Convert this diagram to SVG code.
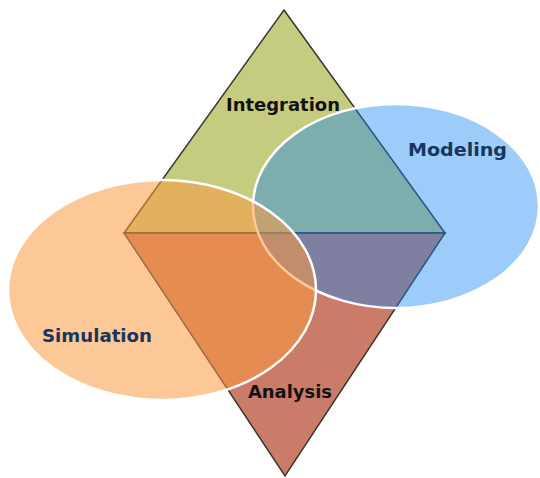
<svg xmlns="http://www.w3.org/2000/svg" width="540" height="478" viewBox="0 0 540 478">
  <style>
    .tri { stroke: #3a3530; stroke-width: 1.5; stroke-linejoin: miter; }
    .ring { stroke: #ffffff; stroke-width: 2.5; }
    .label { font-family: "DejaVu Sans", "Open Sans", sans-serif; font-weight: 700; font-size: 17.5px; text-anchor: middle; }
    .dark { fill: #111111; }
    .navy { fill: #17365d; }
  </style>
  <rect width="540" height="478" fill="#ffffff"/>
  <g id="integration">
    <polygon class="tri" points="284,10 445,233 124,233" fill="#c5cc80"/>
  </g>
  <g id="analysis">
    <polygon class="tri" points="124,233 445,233 285,476" fill="#ca7c68"/>
  </g>
  <g id="modeling">
    <ellipse class="ring" cx="396" cy="206" rx="143" ry="102" fill="#1482f2" fill-opacity="0.41"/>
  </g>
  <g id="simulation">
    <ellipse class="ring" cx="162" cy="290" rx="154" ry="110" fill="#fa9a41" fill-opacity="0.54"/>
  </g>
  <g id="labels">
    <text class="label dark" x="283" y="111" textLength="114" lengthAdjust="spacingAndGlyphs">Integration</text>
    <text class="label navy" x="457.5" y="156" textLength="99" lengthAdjust="spacingAndGlyphs">Modeling</text>
    <text class="label navy" x="97" y="342" textLength="110" lengthAdjust="spacingAndGlyphs">Simulation</text>
    <text class="label dark" x="290" y="398" textLength="84" lengthAdjust="spacingAndGlyphs">Analysis</text>
  </g>
</svg>
